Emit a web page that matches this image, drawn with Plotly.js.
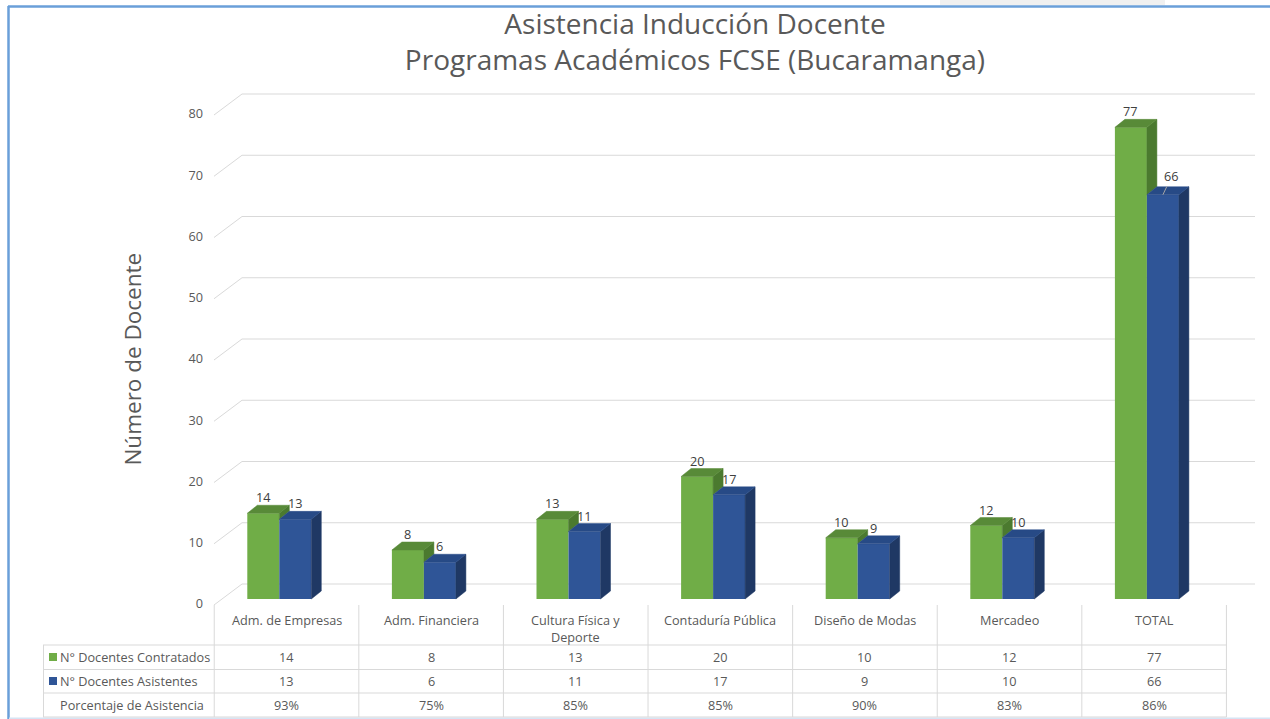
<!DOCTYPE html>
<html><head><meta charset="utf-8">
<script src="https://cdn.plot.ly/plotly-3.0.1.min.js"></script>
<style>html,body{margin:0;padding:0;background:#fff;}#chart{width:1270px;height:719px;}</style>
</head><body><div id="chart"></div>
<script>
// ---------- data ----------
const categories = ['Adm. de Empresas','Adm. Financiera','Cultura Física y Deporte','Contaduría Pública','Diseño de Modas','Mercadeo','TOTAL'];
const contratados = [14, 8, 13, 20, 10, 12, 77];
const asistentes  = [13, 6, 11, 17, 9, 10, 66];
const porcentaje  = ['93%','75%','85%','85%','90%','83%','86%'];
const seriesNames = ['N° Docentes Contratados','N° Docentes Asistentes'];
const rowLabel3   = 'Porcentaje de Asistencia';
const yTicks      = [0, 10, 20, 30, 40, 50, 60, 70, 80];
const titleLines  = ['Asistencia Inducción Docente','Programas Académicos FCSE (Bucaramanga)'];
const yTitle      = 'Número de Docente';

// ---------- styling / geometry ----------
const W = 1270, H = 719;
const PL = 207, PR = 1260, PT = 90, PB = 605;
const PX_X = 144.6, X0 = -0.5, XMAX = X0 + (PR - PL) / PX_X;
const PX_Y = 6.125, Y0 = -0.98, YMAX = Y0 + (PB - PT) / PX_Y;
const BAR_W = 32 / PX_X;
const DX = 10 / PX_X, DY = 8 / PX_Y;
const FRONT_X = X0 + (214 - PL) / PX_X, BACK_X = X0 + (242 - PL) / PX_X, BACK_XR = X0 + (1255 - PL) / PX_X;
const FRONT_OFF = Y0, BACK_OFF = (599 - 584) / PX_Y;
const TBL_SHIFT = 0.05;
const TXT = '#595959', GRID = '#d9d9d9', FONT = 'Open Sans';
const GREEN = '#70ad47', GREEN_TOP = '#588a38', GREEN_SIDE = '#4b7a2f';
const BLUE = '#2f5597', BLUE_TOP = '#274a86', BLUE_SIDE = '#1f3864';
const px2paperX = p => (p - PL) / (PR - PL);
const px2paperY = p => (PB - p) / (PB - PT);

const idx = categories.map((c, i) => i);

// ---------- 3D faces ----------
function faces(vals, off, kind, hideBelow) {
  const xs = [], ys = [];
  vals.forEach((v, i) => {
    const x0 = i + off, x1 = i + off + BAR_W;
    let pts;
    if (kind === 'top') pts = [[x0, v], [x0 + DX, v + DY], [x1 + DX, v + DY], [x1, v], [x0, v]];
    else {
      const b = hideBelow ? hideBelow[i] : 0;
      if (b >= v) return;
      pts = [[x1, b], [x1, v], [x1 + DX, v + DY], [x1 + DX, b + DY], [x1, b]];
    }
    pts.forEach(p => { xs.push(p[0]); ys.push(p[1]); });
    xs.push(null); ys.push(null);
  });
  return {xs, ys};
}
function faceTrace(f, color) {
  return {type: 'scatter', mode: 'lines', x: f.xs, y: f.ys, fill: 'toself', fillcolor: color,
    line: {color: color, width: 0.5}, hoverinfo: 'skip', showlegend: false, connectgaps: false};
}

const traces = [
  {type: 'bar', name: seriesNames[0], x: idx, y: contratados, offset: -BAR_W, width: BAR_W,
   marker: {color: GREEN, line: {width: 0}}, customdata: categories,
   hovertemplate: '%{customdata}: %{y}<extra>' + seriesNames[0] + '</extra>'},
  {type: 'bar', name: seriesNames[1], x: idx, y: asistentes, offset: 0, width: BAR_W,
   marker: {color: BLUE, line: {width: 0}}, customdata: categories,
   hovertemplate: '%{customdata}: %{y}<extra>' + seriesNames[1] + '</extra>'},
  faceTrace(faces(contratados, -BAR_W, 'side', asistentes), GREEN_SIDE),
  faceTrace(faces(contratados, -BAR_W, 'top'), GREEN_TOP),
  faceTrace(faces(asistentes, 0, 'side', null), BLUE_SIDE),
  faceTrace(faces(asistentes, 0, 'top'), BLUE_TOP)
];

// ---------- shapes ----------
const shapes = [];
shapes.push({type: 'rect', xref: 'paper', yref: 'paper', x0: px2paperX(940), x1: px2paperX(1165), y0: px2paperY(0), y1: px2paperY(5), fillcolor: '#f0f0f0', line: {width: 0}, layer: 'below'});
shapes.push({type: 'line', xref: 'paper', yref: 'paper', x0: px2paperX(8), x1: px2paperX(1272), y0: px2paperY(6.5), y1: px2paperY(6.5), line: {color: '#6a9fd9', width: 2.5}});
shapes.push({type: 'line', xref: 'paper', yref: 'paper', x0: px2paperX(8.5), x1: px2paperX(8.5), y0: px2paperY(6), y1: px2paperY(722), line: {color: '#6a9fd9', width: 2.5}});
shapes.push({type: 'line', xref: 'paper', yref: 'paper', x0: px2paperX(9), x1: px2paperX(1272), y0: px2paperY(718.5), y1: px2paperY(718.5), line: {color: '#d6e4f4', width: 2}});
yTicks.forEach(v => {
  shapes.push({type: 'path', xref: 'x', yref: 'y', layer: 'below',
    path: `M${FRONT_X},${v + FRONT_OFF} L${BACK_X},${v + BACK_OFF} L${BACK_XR},${v + BACK_OFF}`,
    line: {color: GRID, width: 1}});
});
for (let i = 0; i <= categories.length; i++) {
  shapes.push({type: 'line', xref: 'x', yref: 'paper', x0: i - 0.5 + TBL_SHIFT, x1: i - 0.5 + TBL_SHIFT,
    y0: px2paperY(605), y1: px2paperY(717), line: {color: GRID, width: 1}});
}
[645, 669.5, 693, 717].forEach(p => {
  shapes.push({type: 'line', xref: 'paper', yref: 'paper', x0: px2paperX(43), x1: px2paperX(PL + (categories.length + TBL_SHIFT) * PX_X),
    y0: px2paperY(p), y1: px2paperY(p), line: {color: GRID, width: 1}});
});
shapes.push({type: 'line', xref: 'paper', yref: 'paper', x0: px2paperX(43.5), x1: px2paperX(43.5), y0: px2paperY(645), y1: px2paperY(717), line: {color: GRID, width: 1}});
[[657, GREEN], [681, BLUE]].forEach(([c, col]) => {
  shapes.push({type: 'rect', xref: 'paper', yref: 'paper', x0: px2paperX(49), x1: px2paperX(57), y0: px2paperY(c - 4), y1: px2paperY(c + 4), fillcolor: col, line: {width: 0}});
});

// ---------- annotations ----------
const ann = [];
const tf = {family: FONT, size: 12.7, color: TXT};
const lf = {family: FONT, size: 12.7, color: '#404040'};
contratados.forEach((v, i) => ann.push({x: i - BAR_W / 2, y: v, xref: 'x', yref: 'y', text: String(v), showarrow: false, yanchor: 'bottom', yshift: 5, font: lf}));
asistentes.forEach((v, i) => {
  const last = i === asistentes.length - 1;
  if (last) ann.push({x: i + BAR_W / 2, y: v, xref: 'x', yref: 'y', text: String(v), showarrow: true, ax: 9, ay: -19, arrowhead: 0, arrowwidth: 1, arrowcolor: '#a6a6a6', font: lf});
  else ann.push({x: i + BAR_W / 2, y: v, xref: 'x', yref: 'y', text: String(v), showarrow: false, yanchor: 'bottom', yshift: 5, font: lf});
});
categories.forEach((c, i) => {
  const label = c === 'Cultura Física y Deporte' ? 'Cultura Física y<br>Deporte' : c;
  ann.push({x: i + TBL_SHIFT, y: px2paperY(609), xref: 'x', yref: 'paper', text: label, showarrow: false, yanchor: 'top', font: tf});
  ann.push({x: i + TBL_SHIFT, y: px2paperY(657), xref: 'x', yref: 'paper', text: String(contratados[i]), showarrow: false, yanchor: 'middle', font: tf});
  ann.push({x: i + TBL_SHIFT, y: px2paperY(681), xref: 'x', yref: 'paper', text: String(asistentes[i]), showarrow: false, yanchor: 'middle', font: tf});
  ann.push({x: i + TBL_SHIFT, y: px2paperY(705), xref: 'x', yref: 'paper', text: porcentaje[i], showarrow: false, yanchor: 'middle', font: tf});
});
[[seriesNames[0], 657], [seriesNames[1], 681], [rowLabel3, 705]].forEach(([t, c]) => {
  ann.push({x: px2paperX(58), y: px2paperY(c), xref: 'paper', yref: 'paper', text: t, showarrow: false, xanchor: 'left', yanchor: 'middle', font: tf});
});

const layout = {
  width: W, height: H, autosize: false,
  margin: {l: PL, r: W - PR, t: PT, b: H - PB, pad: 0},
  paper_bgcolor: '#ffffff', plot_bgcolor: 'rgba(0,0,0,0)',
  showlegend: false, barmode: 'overlay',
  title: {text: titleLines.join('<br>'), font: {family: FONT, size: 28, color: TXT},
    x: 695 / W, xref: 'container', xanchor: 'center', y: 1 - 34 / H, yref: 'container', yanchor: 'middle'},
  xaxis: {range: [X0, XMAX], visible: false, fixedrange: true},
  yaxis: {range: [Y0, YMAX], tickvals: yTicks, ticks: '', showgrid: false, zeroline: false, showline: false,
    tickfont: {family: FONT, size: 12.7, color: TXT}, ticklabelshift: 5, ticklabelstandoff: 3,
    title: {text: yTitle + '\u00a0\u00a0\u00a0\u00a0\u200b', font: {family: FONT, size: 22.5, color: TXT}, standoff: 40}, automargin: false, fixedrange: true},
  shapes: shapes,
  annotations: ann
};
Plotly.newPlot('chart', traces, layout, {displayModeBar: false, staticPlot: true});
</script></body></html>
